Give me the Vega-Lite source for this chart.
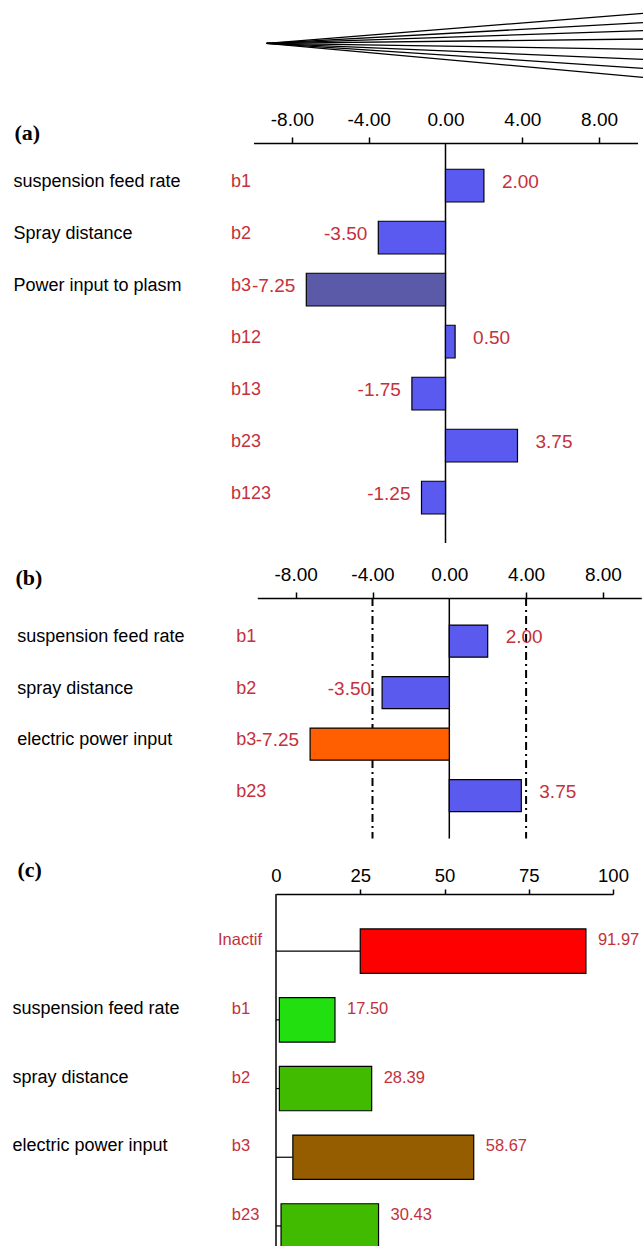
{
  "$schema": "https://vega.github.io/schema/vega-lite/v6.json",
  "padding": 0,
  "background": "white",
  "spacing": 55,
  "bounds": "flush",
  "resolve": {"scale": {"fill": "independent"}},
  "config": {
    "view": {"stroke": null},
    "locale": {"number": {"decimal": ".", "thousands": ",", "grouping": [3], "currency": ["$", ""], "minus": "-"}},
    "axis": {"domainColor": "black", "domainWidth": 1.5, "tickColor": "black", "tickWidth": 1.5, "grid": false, "labelColor": "black", "labelFont": "Liberation Sans", "labelOverlap": false, "labelFlush": false, "titleColor": "black", "titleFont": "Liberation Serif", "titleFontWeight": "bold", "titleFontSize": 22, "titleAngle": 0, "titleAlign": "left", "titleBaseline": "alphabetic"}
  },
  "datasets": {
    "fan": [{"line": 1, "spread": -30}, {"line": 2, "spread": -20.6}, {"line": 3, "spread": -12.6}, {"line": 4, "spread": -4.3}, {"line": 5, "spread": 6}, {"line": 6, "spread": 16}, {"line": 7, "spread": 25}, {"line": 8, "spread": 34}],
    "a": [
      {"code": "b1", "name": "suspension feed rate", "value": 2.0},
      {"code": "b2", "name": "Spray distance", "value": -3.5},
      {"code": "b3", "name": "Power input to plasm", "value": -7.25},
      {"code": "b12", "name": "", "value": 0.5},
      {"code": "b13", "name": "", "value": -1.75},
      {"code": "b23", "name": "", "value": 3.75},
      {"code": "b123", "name": "", "value": -1.25}
    ],
    "b": [
      {"code": "b1", "name": "suspension feed rate", "value": 2.0},
      {"code": "b2", "name": "spray distance", "value": -3.5},
      {"code": "b3", "name": "electric power input", "value": -7.25},
      {"code": "b23", "name": "", "value": 3.75}
    ],
    "c": [
      {"code": "Inactif", "name": "", "low": 25, "value": 91.97},
      {"code": "b1", "name": "suspension feed rate", "low": 1, "value": 17.5},
      {"code": "b2", "name": "spray distance", "low": 1, "value": 28.39},
      {"code": "b3", "name": "electric power input", "low": 5, "value": 58.67},
      {"code": "b23", "name": "", "low": 1.5, "value": 30.43}
    ]
  },
  "vconcat": [
    {
      "width": 644,
      "height": 87.7,
      "data": {"name": "fan"},
      "mark": {"type": "rule", "color": "black", "strokeWidth": 1.3},
      "encoding": {
        "x": {"datum": 1, "type": "quantitative", "scale": {"domain": [0, 1], "range": [266.7, 643]}, "axis": null},
        "x2": {"datum": 0},
        "y": {"field": "spread", "type": "quantitative", "scale": {"domain": [-43.3, 44.4], "reverse": true}, "axis": null},
        "y2": {"datum": 0}
      }
    },
    {
      "width": 644,
      "height": 400,
      "data": {"name": "a"},
      "layer": [
        {
          "data": {"values": [{}]},
          "mark": {"type": "rule", "color": "black", "strokeWidth": 1.5},
          "encoding": {
            "x": {"datum": 0, "type": "quantitative",
              "scale": {"domain": [-10, 10], "range": [253.5, 637.5], "nice": false, "zero": false},
              "axis": {"orient": "top", "values": [-8, -4, 0, 4, 8], "format": ".2f", "tickSize": 6, "labelPadding": 8, "labelFontSize": 19,
                "tickOpacity": {"condition": {"test": "datum.value == 0", "value": 0}, "value": 1},
                "title": "(a)", "titleX": 14, "titleY": -4}
            }
          }
        },
        {
          "mark": {"type": "bar", "stroke": "black", "strokeWidth": 1.2},
          "encoding": {
            "y": {"field": "code", "type": "nominal", "scale": {"domain": ["b1", "b2", "b3", "b12", "b13", "b23", "b123"], "paddingInner": 0.37, "paddingOuter": 0.531, "align": 0.475}, "axis": null},
            "x": {"field": "value", "type": "quantitative"},
            "x2": {"datum": 0},
            "fill": {"field": "code", "type": "nominal", "scale": {"domain": ["b1", "b2", "b3", "b12", "b13", "b23", "b123"], "range": ["#5a5af0", "#5a5af0", "#5a5aa8", "#5a5af0", "#5a5af0", "#5a5af0", "#5a5af0"]}, "legend": null}
          }
        },
        {
          "transform": [{"filter": "datum.value >= 0"}],
          "mark": {"type": "text", "align": "left", "baseline": "middle", "dx": 18, "dy": -4, "font": "Liberation Sans", "fontSize": 19, "color": "#c4313b"},
          "encoding": {"y": {"field": "code", "type": "nominal"}, "x": {"field": "value", "type": "quantitative"}, "text": {"field": "value", "type": "quantitative", "format": ".2f"}}
        },
        {
          "transform": [{"filter": "datum.value < 0"}],
          "mark": {"type": "text", "align": "right", "baseline": "middle", "dx": -11, "dy": -4, "font": "Liberation Sans", "fontSize": 19, "color": "#c4313b"},
          "encoding": {"y": {"field": "code", "type": "nominal"}, "x": {"field": "value", "type": "quantitative"}, "text": {"field": "value", "type": "quantitative", "format": ".2f"}}
        },
        {
          "mark": {"type": "text", "align": "left", "baseline": "middle", "dy": -4, "font": "Liberation Sans", "fontSize": 18, "color": "#c4313b"},
          "encoding": {"y": {"field": "code", "type": "nominal"}, "x": {"datum": -11.17, "type": "quantitative"}, "text": {"field": "code", "type": "nominal"}}
        },
        {
          "mark": {"type": "text", "align": "left", "baseline": "middle", "dy": -4, "font": "Liberation Sans", "fontSize": 18, "color": "black"},
          "encoding": {"y": {"field": "code", "type": "nominal"}, "x": {"datum": -22.5, "type": "quantitative"}, "text": {"field": "name", "type": "nominal"}}
        }
      ]
    },
    {
      "width": 644,
      "height": 240.6,
      "data": {"name": "b"},
      "layer": [
        {
          "data": {"values": [{}]},
          "mark": {"type": "rule", "color": "black", "strokeWidth": 1.5},
          "encoding": {
            "x": {"datum": 0, "type": "quantitative",
              "scale": {"domain": [-10, 10], "range": [257.3, 641.3], "nice": false, "zero": false},
              "axis": {"orient": "top", "values": [-8, -4, 0, 4, 8], "format": ".2f", "tickSize": 6, "labelPadding": 8, "labelFontSize": 19,
                "tickOpacity": {"condition": {"test": "datum.value == 0", "value": 0}, "value": 1},
                "title": "(b)", "titleX": 15, "titleY": -14}
            }
          }
        },
        {
          "data": {"values": [{"limit": -4}, {"limit": 4}]},
          "mark": {"type": "rule", "color": "black", "strokeWidth": 2, "strokeDash": [8, 4, 2, 4]},
          "encoding": {"x": {"field": "limit", "type": "quantitative"}}
        },
        {
          "mark": {"type": "bar", "stroke": "black", "strokeWidth": 1.2},
          "encoding": {
            "y": {"field": "code", "type": "nominal", "scale": {"domain": ["b1", "b2", "b3", "b23"], "paddingInner": 0.376, "paddingOuter": 0.524, "align": 0.501}, "axis": null},
            "x": {"field": "value", "type": "quantitative"},
            "x2": {"datum": 0},
            "fill": {"field": "code", "type": "nominal", "scale": {"domain": ["b1", "b2", "b3", "b23"], "range": ["#5a5aee", "#5a5aee", "#ff5f00", "#5a5aee"]}, "legend": null}
          }
        },
        {
          "transform": [{"filter": "datum.value >= 0"}],
          "mark": {"type": "text", "align": "left", "baseline": "middle", "dx": 18, "dy": -4, "font": "Liberation Sans", "fontSize": 19, "color": "#c4313b"},
          "encoding": {"y": {"field": "code", "type": "nominal"}, "x": {"field": "value", "type": "quantitative"}, "text": {"field": "value", "type": "quantitative", "format": ".2f"}}
        },
        {
          "transform": [{"filter": "datum.value < 0"}],
          "mark": {"type": "text", "align": "right", "baseline": "middle", "dx": -11, "dy": -4, "font": "Liberation Sans", "fontSize": 19, "color": "#c4313b"},
          "encoding": {"y": {"field": "code", "type": "nominal"}, "x": {"field": "value", "type": "quantitative"}, "text": {"field": "value", "type": "quantitative", "format": ".2f"}}
        },
        {
          "mark": {"type": "text", "align": "left", "baseline": "middle", "dy": -4, "font": "Liberation Sans", "fontSize": 18, "color": "#c4313b"},
          "encoding": {"y": {"field": "code", "type": "nominal"}, "x": {"datum": -11.1, "type": "quantitative"}, "text": {"field": "code", "type": "nominal"}}
        },
        {
          "mark": {"type": "text", "align": "left", "baseline": "middle", "dy": -4, "font": "Liberation Sans", "fontSize": 18, "color": "black"},
          "encoding": {"y": {"field": "code", "type": "nominal"}, "x": {"datum": -22.5, "type": "quantitative"}, "text": {"field": "name", "type": "nominal"}}
        }
      ]
    },
    {
      "width": 644,
      "height": 352,
      "data": {"name": "c"},
      "layer": [
        {
          "data": {"values": [{}]},
          "mark": {"type": "rule", "color": "black", "strokeWidth": 1.5},
          "encoding": {
            "x": {"datum": 0, "type": "quantitative",
              "scale": {"domain": [0, 100], "range": [276, 613], "nice": false, "zero": false},
              "axis": {"orient": "top", "values": [0, 25, 50, 75, 100], "format": "d", "tickSize": 5, "labelPadding": 4, "labelFontSize": 18.5,
                "tickOpacity": {"condition": {"test": "datum.value == 0", "value": 0}, "value": 1},
                "title": "(c)", "titleX": 17, "titleY": -18}
            }
          }
        },
        {
          "mark": {"type": "rule", "color": "black", "strokeWidth": 1.2, "clip": true},
          "encoding": {
            "y": {"field": "code", "type": "nominal", "scale": {"domain": ["Inactif", "b1", "b2", "b3", "b23"], "range": [0, 389.1], "paddingInner": 0.354, "paddingOuter": 0.509}, "axis": null},
            "x": {"field": "low", "type": "quantitative"},
            "x2": {"datum": 0}
          }
        },
        {
          "mark": {"type": "bar", "stroke": "black", "strokeWidth": 1.2, "clip": true},
          "encoding": {
            "y": {"field": "code", "type": "nominal"},
            "x": {"field": "low", "type": "quantitative"},
            "x2": {"field": "value"},
            "fill": {"field": "code", "type": "nominal", "scale": {"domain": ["Inactif", "b1", "b2", "b3", "b23"], "range": ["#ff0000", "#22e010", "#40bb00", "#955c00", "#40bb00"]}, "legend": null}
          }
        },
        {
          "mark": {"type": "text", "align": "left", "baseline": "middle", "dx": 12, "dy": -11, "font": "Liberation Sans", "fontSize": 16.5, "color": "#c4313b"},
          "encoding": {"y": {"field": "code", "type": "nominal"}, "x": {"field": "value", "type": "quantitative"}, "text": {"field": "value", "type": "quantitative", "format": ".2f"}}
        },
        {
          "transform": [{"filter": "datum.code != 'Inactif'"}],
          "mark": {"type": "text", "align": "left", "baseline": "middle", "dy": -11, "font": "Liberation Sans", "fontSize": 16.5, "color": "#c4313b"},
          "encoding": {"y": {"field": "code", "type": "nominal"}, "x": {"datum": -13.1, "type": "quantitative"}, "text": {"field": "code", "type": "nominal"}}
        },
        {
          "transform": [{"filter": "datum.code == 'Inactif'"}],
          "mark": {"type": "text", "align": "right", "baseline": "middle", "dy": -11, "font": "Liberation Sans", "fontSize": 16.5, "color": "#c4313b"},
          "encoding": {"y": {"field": "code", "type": "nominal"}, "x": {"datum": -4.15, "type": "quantitative"}, "text": {"field": "code", "type": "nominal"}}
        },
        {
          "mark": {"type": "text", "align": "left", "baseline": "middle", "dy": -11, "font": "Liberation Sans", "fontSize": 18, "color": "black"},
          "encoding": {"y": {"field": "code", "type": "nominal"}, "x": {"datum": -78.2, "type": "quantitative"}, "text": {"field": "name", "type": "nominal"}}
        }
      ]
    }
  ]
}
